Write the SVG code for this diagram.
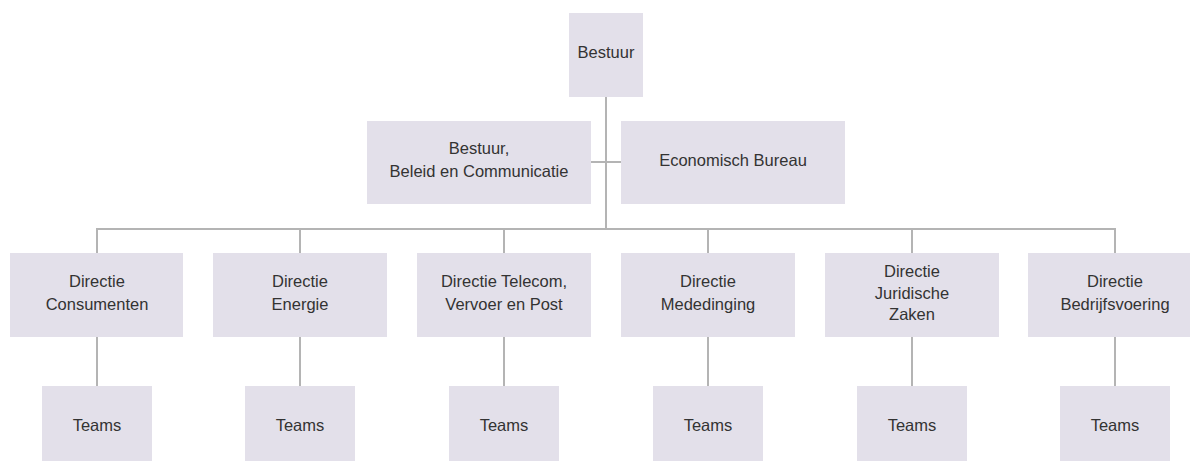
<svg xmlns="http://www.w3.org/2000/svg" width="1192" height="461" viewBox="0 0 1192 461">
<style>
.box{fill:#e3e0ea;}
.t{font-family:"Liberation Sans",Arial,sans-serif;font-size:16.5px;fill:#333;text-anchor:middle;}
.c{stroke:#b4b4b4;stroke-width:2;fill:none;}
</style>
<rect width="1192" height="461" fill="#fff"/>
<g id="connectors" class="c">
<path d="M606 97V229"/>
<path d="M591 162H621"/>
<path d="M97 253V229H1115V253"/>
<path d="M300 229V253M504 229V253M708 229V253M912 229V253"/>
<path d="M97 337V386M300 337V386M504 337V386M708 337V386M912 337V386M1115 337V386"/>
</g>
<g id="bestuur"><rect class="box" x="569" y="13" width="74" height="84"/><text class="t" x="606" y="58">Bestuur</text></g>
<g id="bbc"><rect class="box" x="367" y="121" width="224" height="83"/><text class="t" x="479" y="154">Bestuur,</text><text class="t" x="479" y="177">Beleid en Communicatie</text></g>
<g id="eb"><rect class="box" x="621" y="121" width="224" height="83"/><text class="t" x="733" y="166">Economisch Bureau</text></g>
<g id="d1"><rect class="box" x="10" y="253" width="173" height="84"/><text class="t" x="97" y="287">Directie</text><text class="t" x="97" y="310">Consumenten</text></g>
<g id="d2"><rect class="box" x="213" y="253" width="174" height="84"/><text class="t" x="300" y="287">Directie</text><text class="t" x="300" y="310">Energie</text></g>
<g id="d3"><rect class="box" x="417" y="253" width="174" height="84"/><text class="t" x="504" y="287">Directie Telecom,</text><text class="t" x="504" y="310">Vervoer en Post</text></g>
<g id="d4"><rect class="box" x="621" y="253" width="174" height="84"/><text class="t" x="708" y="287">Directie</text><text class="t" x="708" y="310">Mededinging</text></g>
<g id="d5"><rect class="box" x="825" y="253" width="174" height="84"/><text class="t" x="912" y="277">Directie</text><text class="t" x="912" y="298.5">Juridische</text><text class="t" x="912" y="320">Zaken</text></g>
<g id="d6"><rect class="box" x="1028" y="253" width="162" height="84"/><text class="t" x="1115" y="287">Directie</text><text class="t" x="1115" y="310">Bedrijfsvoering</text></g>
<g id="t1"><rect class="box" x="42" y="386" width="110" height="84"/><text class="t" x="97" y="431">Teams</text></g>
<g id="t2"><rect class="box" x="245" y="386" width="110" height="84"/><text class="t" x="300" y="431">Teams</text></g>
<g id="t3"><rect class="box" x="449" y="386" width="110" height="84"/><text class="t" x="504" y="431">Teams</text></g>
<g id="t4"><rect class="box" x="653" y="386" width="110" height="84"/><text class="t" x="708" y="431">Teams</text></g>
<g id="t5"><rect class="box" x="857" y="386" width="110" height="84"/><text class="t" x="912" y="431">Teams</text></g>
<g id="t6"><rect class="box" x="1060" y="386" width="110" height="84"/><text class="t" x="1115" y="431">Teams</text></g>
</svg>
